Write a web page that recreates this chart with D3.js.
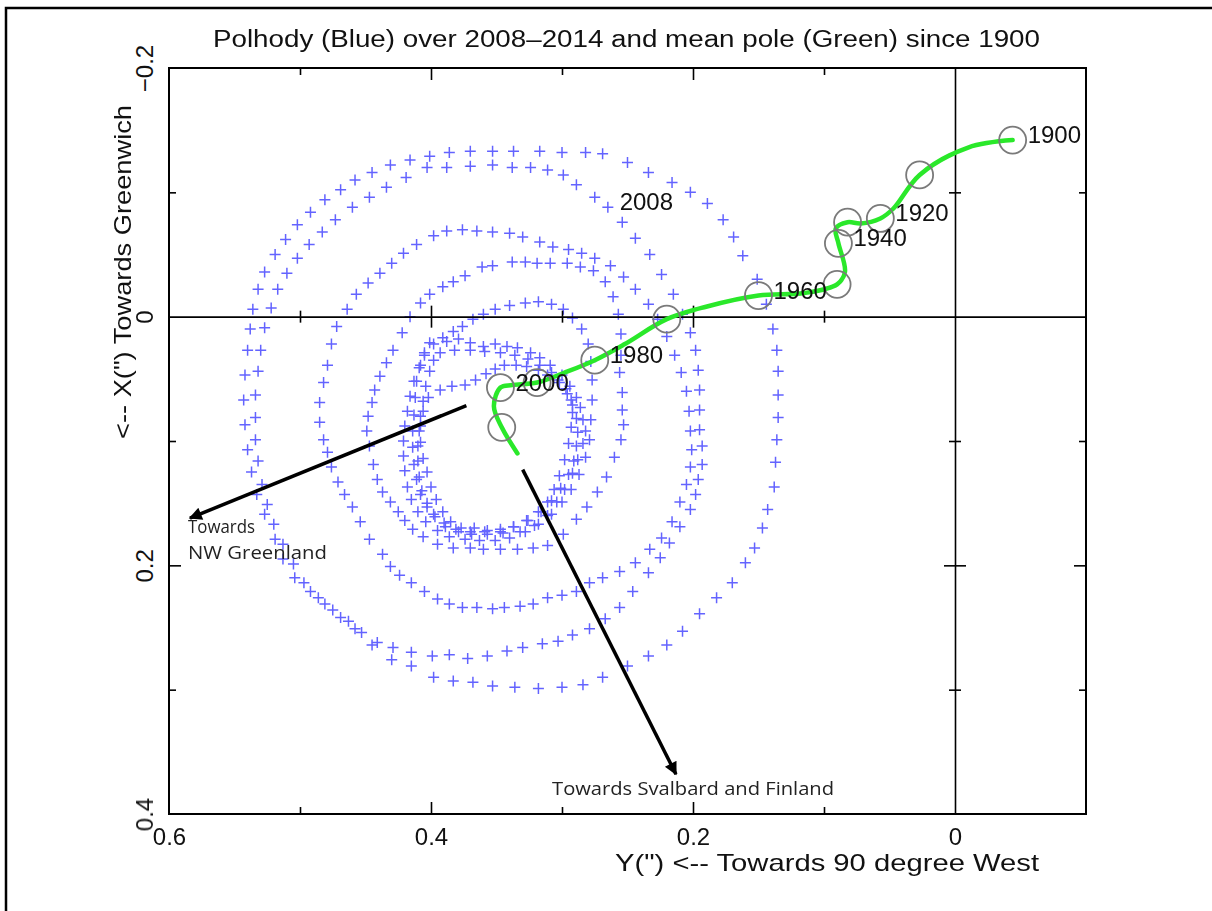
<!DOCTYPE html>
<html>
<head>
<meta charset="utf-8">
<script src="https://cdn.jsdelivr.net/npm/d3@7"></script>
<style>
  body { margin: 0; background: #fff; }
  svg { display: block; }
</style>
</head>
<body>
<div id="chart"></div>
<script>
// Define SVG area and plot box
var svgWidth = 1212;
var svgHeight = 911;
var plot = { left: 169, right: 1086, top: 68, bottom: 814 };

// Polhody 2008-2014, loops from outer to inner, [Y, X] in arcsec
var loopA = [[0.370,-0.133],[0.353,-0.133],[0.337,-0.133],[0.317,-0.133],[0.300,-0.132],[0.282,-0.132],[0.269,-0.131],[0.250,-0.124],[0.234,-0.116],[0.216,-0.108],[0.202,-0.100],[0.189,-0.091],[0.177,-0.078],[0.169,-0.064],[0.162,-0.049],[0.151,-0.030],[0.144,-0.010],[0.139,0.010],[0.136,0.027],[0.135,0.044],[0.135,0.063],[0.135,0.081],[0.136,0.099],[0.137,0.117],[0.138,0.137],[0.143,0.155],[0.147,0.170],[0.153,0.186],[0.160,0.198],[0.170,0.214],[0.182,0.226],[0.195,0.239],[0.208,0.253],[0.220,0.264],[0.234,0.273],[0.250,0.281],[0.269,0.290],[0.284,0.296],[0.300,0.298],[0.318,0.299],[0.336,0.298],[0.353,0.297],[0.368,0.294],[0.383,0.293],[0.398,0.290],[0.415,0.281],[0.430,0.276],[0.445,0.264],[0.458,0.251],[0.469,0.242],[0.481,0.231],[0.492,0.221],[0.504,0.210],[0.513,0.195],[0.519,0.179],[0.527,0.159],[0.533,0.143],[0.537,0.125],[0.540,0.107],[0.542,0.087],[0.543,0.067],[0.542,0.047],[0.540,0.027],[0.538,0.010],[0.536,-0.006],[0.532,-0.022],[0.527,-0.036],[0.519,-0.050],[0.511,-0.062],[0.502,-0.074],[0.492,-0.084],[0.481,-0.094],[0.469,-0.102],[0.458,-0.110],[0.445,-0.116],[0.431,-0.122],[0.416,-0.126],[0.401,-0.129],[0.386,-0.132]];

var loopB = [[0.403,-0.120],[0.388,-0.120],[0.370,-0.121],[0.353,-0.122],[0.338,-0.120],[0.324,-0.120],[0.311,-0.118],[0.299,-0.114],[0.289,-0.106],[0.275,-0.096],[0.265,-0.088],[0.254,-0.076],[0.244,-0.063],[0.233,-0.050],[0.224,-0.034],[0.215,-0.018],[0.208,-0.002],[0.202,0.013],[0.198,0.027],[0.196,0.043],[0.195,0.059],[0.195,0.075],[0.195,0.091],[0.193,0.104],[0.193,0.119],[0.196,0.131],[0.198,0.143],[0.202,0.155],[0.210,0.169],[0.218,0.182],[0.225,0.194],[0.234,0.206],[0.246,0.221],[0.256,0.234],[0.267,0.243],[0.279,0.251],[0.292,0.256],[0.303,0.261],[0.315,0.263],[0.330,0.266],[0.342,0.269],[0.357,0.273],[0.372,0.275],[0.386,0.272],[0.399,0.273],[0.415,0.270],[0.429,0.266],[0.441,0.262],[0.453,0.254],[0.463,0.245],[0.475,0.236],[0.486,0.226],[0.497,0.214],[0.505,0.199],[0.513,0.183],[0.520,0.167],[0.525,0.151],[0.529,0.135],[0.532,0.116],[0.534,0.099],[0.534,0.081],[0.534,0.063],[0.532,0.044],[0.530,0.027],[0.527,0.009],[0.522,-0.007],[0.517,-0.022],[0.510,-0.035],[0.502,-0.047],[0.493,-0.058],[0.483,-0.068],[0.473,-0.078],[0.460,-0.088],[0.447,-0.096],[0.434,-0.104],[0.419,-0.112]];

var loopC = [[0.411,-0.058],[0.398,-0.065],[0.388,-0.069],[0.376,-0.070],[0.365,-0.069],[0.353,-0.068],[0.340,-0.067],[0.330,-0.064],[0.317,-0.060],[0.307,-0.056],[0.295,-0.054],[0.285,-0.051],[0.275,-0.047],[0.263,-0.041],[0.253,-0.032],[0.244,-0.022],[0.234,-0.010],[0.227,0.002],[0.220,0.016],[0.214,0.031],[0.209,0.045],[0.205,0.060],[0.203,0.076],[0.202,0.092],[0.201,0.107],[0.202,0.121],[0.205,0.135],[0.210,0.149],[0.216,0.165],[0.224,0.178],[0.233,0.187],[0.244,0.198],[0.256,0.205],[0.269,0.210],[0.279,0.214],[0.289,0.221],[0.300,0.224],[0.311,0.226],[0.322,0.231],[0.332,0.233],[0.344,0.234],[0.353,0.235],[0.365,0.234],[0.376,0.234],[0.386,0.231],[0.395,0.227],[0.405,0.221],[0.415,0.214],[0.424,0.208],[0.431,0.201],[0.437,0.191],[0.447,0.179],[0.454,0.165],[0.460,0.153],[0.466,0.143],[0.471,0.133],[0.476,0.121],[0.479,0.109],[0.482,0.099],[0.485,0.085],[0.485,0.069],[0.482,0.053],[0.479,0.039],[0.476,0.022],[0.472,0.008],[0.464,-0.006],[0.457,-0.018],[0.448,-0.027],[0.439,-0.035],[0.430,-0.043],[0.421,-0.051]];

var loopD = [[0.361,-0.040],[0.353,-0.041],[0.338,-0.044],[0.328,-0.044],[0.319,-0.043],[0.309,-0.043],[0.296,-0.043],[0.286,-0.040],[0.276,-0.037],[0.267,-0.028],[0.261,-0.016],[0.257,-0.002],[0.255,0.014],[0.255,0.031],[0.256,0.045],[0.254,0.061],[0.254,0.075],[0.253,0.087],[0.255,0.099],[0.260,0.113],[0.266,0.129],[0.273,0.141],[0.281,0.153],[0.289,0.163],[0.299,0.175],[0.311,0.184],[0.322,0.186],[0.334,0.187],[0.347,0.187],[0.360,0.187],[0.370,0.186],[0.383,0.186],[0.395,0.183],[0.406,0.177],[0.414,0.171],[0.420,0.164],[0.425,0.157],[0.431,0.149],[0.437,0.141],[0.441,0.131],[0.444,0.119],[0.447,0.104],[0.449,0.092],[0.448,0.080],[0.445,0.069],[0.443,0.059],[0.439,0.048],[0.434,0.037],[0.429,0.027],[0.422,0.013],[0.416,0.000],[0.408,-0.011],[0.401,-0.018],[0.391,-0.024],[0.383,-0.028],[0.374,-0.033]];

var loopD2 = [[0.299,-0.006],[0.292,0.001],[0.285,0.010],[0.280,0.022],[0.278,0.036],[0.277,0.051],[0.277,0.067],[0.278,0.083],[0.279,0.099],[0.282,0.113],[0.287,0.127],[0.293,0.139],[0.300,0.149],[0.308,0.159],[0.318,0.167],[0.328,0.173],[0.340,0.178],[0.351,0.180],[0.363,0.180],[0.374,0.179],[0.386,0.177],[0.395,0.172],[0.404,0.165],[0.410,0.157],[0.415,0.147],[0.418,0.137],[0.420,0.124],[0.421,0.112],[0.421,0.100],[0.420,0.088],[0.418,0.076],[0.416,0.064],[0.413,0.052],[0.409,0.041],[0.405,0.031],[0.398,0.022],[0.391,0.017],[0.383,0.012],[0.376,0.008],[0.368,0.002],[0.360,-0.002],[0.351,-0.006],[0.340,-0.009],[0.328,-0.011],[0.318,-0.012],[0.308,-0.010]];

var loopE = [[0.401,0.021],[0.388,0.020],[0.379,0.018],[0.370,0.021],[0.360,0.024],[0.351,0.022],[0.342,0.024],[0.334,0.025],[0.324,0.029],[0.317,0.033],[0.309,0.039],[0.300,0.047],[0.294,0.056],[0.289,0.065],[0.286,0.073],[0.284,0.083],[0.282,0.092],[0.284,0.102],[0.288,0.115],[0.292,0.126],[0.298,0.139],[0.304,0.149],[0.311,0.160],[0.321,0.168],[0.332,0.173],[0.345,0.174],[0.357,0.175],[0.369,0.175],[0.379,0.173],[0.389,0.169],[0.397,0.161],[0.403,0.153],[0.408,0.143],[0.411,0.131],[0.413,0.119],[0.414,0.105],[0.414,0.092],[0.413,0.079],[0.412,0.065],[0.411,0.052],[0.408,0.039],[0.405,0.029]];

var loopF = [[0.374,0.055],[0.384,0.056],[0.393,0.059],[0.402,0.065],[0.406,0.076],[0.408,0.088],[0.408,0.101],[0.406,0.114],[0.403,0.125],[0.400,0.137],[0.396,0.147],[0.391,0.157],[0.385,0.165],[0.377,0.170],[0.367,0.170],[0.357,0.172],[0.347,0.171],[0.337,0.169],[0.327,0.164],[0.318,0.157],[0.311,0.149],[0.306,0.139],[0.302,0.128],[0.298,0.115],[0.295,0.102],[0.293,0.089],[0.292,0.077],[0.293,0.067],[0.297,0.058],[0.303,0.051],[0.311,0.047],[0.318,0.043],[0.327,0.040],[0.335,0.039],[0.344,0.039],[0.351,0.042],[0.358,0.046],[0.366,0.051]];

var loopG = [[0.393,0.029],[0.382,0.027],[0.370,0.027],[0.359,0.028],[0.347,0.029],[0.336,0.031],[0.326,0.034],[0.317,0.039],[0.308,0.045],[0.302,0.053],[0.296,0.062],[0.292,0.071],[0.289,0.082],[0.288,0.093],[0.289,0.104],[0.291,0.116],[0.295,0.127],[0.301,0.138],[0.308,0.148],[0.316,0.157],[0.326,0.164],[0.337,0.169],[0.347,0.173],[0.359,0.173],[0.370,0.173],[0.381,0.171],[0.390,0.166],[0.398,0.159],[0.403,0.150],[0.407,0.140],[0.409,0.129],[0.410,0.116],[0.410,0.104],[0.409,0.092],[0.408,0.080],[0.406,0.068],[0.404,0.056],[0.401,0.044],[0.398,0.035]];

// Mean pole path since 1900
var meanYears = [1900, 1905, 1910, 1915, 1920, 1925, 1930, 1935, 1940, 1945, 1950, 1955, 1960, 1965, 1970, 1975, 1980, 1985, 1990, 1995, 2000, 2005, 2010, 2014];
var meanY = [-0.044, -0.010, 0.027, 0.047, 0.057, 0.072, 0.082, 0.091, 0.089, 0.084, 0.090, 0.115, 0.150, 0.190, 0.220, 0.252, 0.275, 0.298, 0.319, 0.338, 0.347, 0.352, 0.346, 0.334];
var meanX = [-0.142, -0.136, -0.114, -0.087, -0.079, -0.075, -0.076, -0.071, -0.059, -0.036, -0.026, -0.019, -0.017, -0.008, 0.002, 0.022, 0.035, 0.045, 0.053, 0.055, 0.057, 0.072, 0.089, 0.110];
var labelYears = [1900, 1920, 1940, 1960, 1980, 2000];

// Tick values
var xMajorTicks = [0.6, 0.4, 0.2, 0];
var xMinorTicks = [0.5, 0.3, 0.1];
var yMajorTicks = [-0.2, 0, 0.2, 0.4];
var yMinorTicks = [-0.1, 0.1, 0.3];

// Annotations, [Y, X] in arcsec
var arrowNW = [[0.373, 0.0715], [0.584, 0.162]];
var arrowSF = [[0.330, 0.123], [0.213, 0.368]];

var plotFont = "'Liberation Sans', Arial, Helvetica, sans-serif";
var noteFont = "'Open Sans', 'Noto Sans', sans-serif";

var svg = d3.select("#chart")
  .append("svg")
  .attr("width", svgWidth)
  .attr("height", svgHeight);

svg.append("rect").attr("width", svgWidth).attr("height", svgHeight).attr("fill", "#fff");

// outer picture border (top and left)
svg.append("path")
  .attr("d", "M6,911V8H1212")
  .attr("fill", "none")
  .attr("stroke", "#000")
  .attr("stroke-width", 2.5);

var xScale = d3.scaleLinear().domain([0.6, -0.1]).range([plot.left, plot.right]);
var yScale = d3.scaleLinear().domain([-0.2, 0.4]).range([plot.top, plot.bottom]);

function fmt(v) {
  return v < 0 ? "\u2212" + Math.abs(v) : String(v);
}

function ticks(axis, values, size) {
  return axis.tickValues(values).tickSizeInner(size).tickSizeOuter(0).tickFormat("");
}

function addAxis(axis, tx, ty, keepDomain) {
  var g = svg.append("g")
    .attr("transform", "translate(" + tx + "," + ty + ")")
    .call(axis);
  if (!keepDomain) g.select(".domain").remove();
  g.selectAll("line").attr("stroke", "#000").attr("stroke-width", 1.6);
  g.select(".domain").attr("stroke", "#000").attr("stroke-width", 1.6);
  return g;
}

// Blue polhody crosses
var points = d3.merge([loopA, loopB, loopC, loopD, loopD2, loopE, loopF, loopG]);
svg.append("g")
  .attr("stroke", "#4747ff")
  .attr("stroke-width", 1.5)
  .attr("opacity", 0.85)
  .selectAll("path")
  .data(points)
  .enter().append("path")
  .attr("d", "M-5.5,0H5.5M0,-5.5V5.5")
  .attr("transform", d => "translate(" + xScale(d[0]) + "," + yScale(d[1]) + ")");

// frame ticks
addAxis(ticks(d3.axisBottom(xScale), [0.4, 0.2], -12), 0, plot.bottom);
addAxis(ticks(d3.axisBottom(xScale), xMinorTicks, -7), 0, plot.bottom);
addAxis(ticks(d3.axisTop(xScale), [0.4, 0.2], -12), 0, plot.top);
addAxis(ticks(d3.axisTop(xScale), xMinorTicks, -7), 0, plot.top);
addAxis(ticks(d3.axisLeft(yScale), [0.2], -12), plot.left, 0);
addAxis(ticks(d3.axisLeft(yScale), yMinorTicks, -7), plot.left, 0);
addAxis(ticks(d3.axisRight(yScale), [0.2], -12), plot.right, 0);
addAxis(ticks(d3.axisRight(yScale), yMinorTicks, -7), plot.right, 0);

// zero lines with crossing ticks
addAxis(ticks(d3.axisBottom(xScale), [0.4, 0.2], 11), 0, yScale(0), true);
addAxis(ticks(d3.axisTop(xScale), [0.4, 0.2], 11), 0, yScale(0));
addAxis(ticks(d3.axisBottom(xScale), xMinorTicks, 6), 0, yScale(0));
addAxis(ticks(d3.axisTop(xScale), xMinorTicks, 6), 0, yScale(0));
addAxis(ticks(d3.axisLeft(yScale), [0.2], 11), xScale(0), 0, true);
addAxis(ticks(d3.axisRight(yScale), [0.2], 11), xScale(0), 0);
addAxis(ticks(d3.axisLeft(yScale), yMinorTicks, 6), xScale(0), 0);
addAxis(ticks(d3.axisRight(yScale), yMinorTicks, 6), xScale(0), 0);

// plot frame
svg.append("rect")
  .attr("x", plot.left)
  .attr("y", plot.top)
  .attr("width", plot.right - plot.left)
  .attr("height", plot.bottom - plot.top)
  .attr("fill", "none")
  .attr("stroke", "#000")
  .attr("stroke-width", 2);

// tick labels
var bottomLabels = svg.append("g")
  .attr("transform", "translate(0," + plot.bottom + ")")
  .call(d3.axisBottom(xScale).tickValues(xMajorTicks).tickSize(0).tickPadding(14).tickFormat(fmt));
bottomLabels.select(".domain").remove();
bottomLabels.attr("font-family", plotFont).attr("font-size", 24);
bottomLabels.selectAll("text").attr("fill", "#111");

var leftLabels = svg.append("g")
  .attr("transform", "translate(" + plot.left + ",0)")
  .call(d3.axisLeft(yScale).tickValues(yMajorTicks).tickSize(0).tickFormat(fmt));
leftLabels.select(".domain").remove();
leftLabels.attr("font-family", plotFont).attr("font-size", 24);
leftLabels.selectAll("text")
  .attr("x", 0)
  .attr("dy", 0)
  .attr("fill", "#111")
  .attr("text-anchor", "middle")
  .attr("transform", "translate(-16,0) rotate(-90)");

// mean pole path
var meanData = meanYears.map((yr, i) => ({ year: yr, y: meanY[i], x: meanX[i] }));
var line = d3.line()
  .x(d => xScale(d.y))
  .y(d => yScale(d.x))
  .curve(d3.curveCatmullRom.alpha(0.5));

svg.append("path")
  .datum(meanData)
  .attr("d", line)
  .attr("fill", "none")
  .attr("stroke", "#2ae82a")
  .attr("stroke-width", 4.5)
  .attr("stroke-linecap", "round");

svg.append("g")
  .selectAll("circle")
  .data(meanData.filter(d => d.year % 10 === 0))
  .enter().append("circle")
  .attr("cx", d => xScale(d.y))
  .attr("cy", d => yScale(d.x))
  .attr("r", 13.5)
  .attr("fill", "none")
  .attr("stroke", "#7a7a7a")
  .attr("stroke-width", 1.8);

svg.append("g")
  .attr("font-family", plotFont)
  .attr("font-size", 24)
  .attr("fill", "#111")
  .selectAll("text")
  .data(meanData.filter(d => labelYears.indexOf(d.year) >= 0))
  .enter().append("text")
  .attr("x", d => xScale(d.y) + 15)
  .attr("y", d => yScale(d.x) + 3)
  .text(d => d.year);

svg.append("text")
  .attr("x", xScale(0.256))
  .attr("y", yScale(-0.086))
  .attr("font-family", plotFont)
  .attr("font-size", 24)
  .attr("fill", "#111")
  .text("2008");

// titles
svg.append("text")
  .attr("x", 213)
  .attr("y", 47)
  .attr("font-family", plotFont)
  .attr("font-size", 23)
  .attr("textLength", 827)
  .attr("lengthAdjust", "spacingAndGlyphs")
  .attr("fill", "#111")
  .text("Polhody (Blue) over 2008\u20132014 and mean pole (Green) since 1900");

svg.append("text")
  .attr("x", 615)
  .attr("y", 871)
  .attr("font-family", plotFont)
  .attr("font-size", 24)
  .attr("textLength", 424)
  .attr("lengthAdjust", "spacingAndGlyphs")
  .attr("fill", "#111")
  .text("Y(\") <-- Towards 90 degree West");

svg.append("text")
  .attr("transform", "translate(131,439) rotate(-90)")
  .attr("font-family", plotFont)
  .attr("font-size", 24)
  .attr("textLength", 334)
  .attr("lengthAdjust", "spacingAndGlyphs")
  .attr("fill", "#111")
  .text("<-- X(\") Towards Greenwich");

// direction arrows
svg.append("defs").append("marker")
  .attr("id", "head")
  .attr("viewBox", "0 0 10 10")
  .attr("refX", 9)
  .attr("refY", 5)
  .attr("markerUnits", "userSpaceOnUse")
  .attr("markerWidth", 16)
  .attr("markerHeight", 13)
  .attr("orient", "auto")
  .append("path")
  .attr("d", "M0,0L10,5L0,10Z")
  .attr("fill", "#000");

[arrowNW, arrowSF].forEach(function(a) {
  svg.append("line")
    .attr("x1", xScale(a[0][0]))
    .attr("y1", yScale(a[0][1]))
    .attr("x2", xScale(a[1][0]))
    .attr("y2", yScale(a[1][1]))
    .attr("stroke", "#000")
    .attr("stroke-width", 3.5)
    .attr("marker-end", "url(#head)");
});

var notes = svg.append("g")
  .attr("font-family", noteFont)
  .attr("font-size", 18.5)
  .attr("fill", "#222");

notes.append("text").attr("x", xScale(0.5855)).attr("y", yScale(0.174))
  .attr("textLength", 67).attr("lengthAdjust", "spacingAndGlyphs").text("Towards");
notes.append("text").attr("x", xScale(0.5855)).attr("y", yScale(0.195))
  .attr("textLength", 139).attr("lengthAdjust", "spacingAndGlyphs").text("NW Greenland");
notes.append("text").attr("x", xScale(0.3076)).attr("y", yScale(0.385))
  .attr("textLength", 282).attr("lengthAdjust", "spacingAndGlyphs").text("Towards Svalbard and Finland");
</script>
</body>
</html>
